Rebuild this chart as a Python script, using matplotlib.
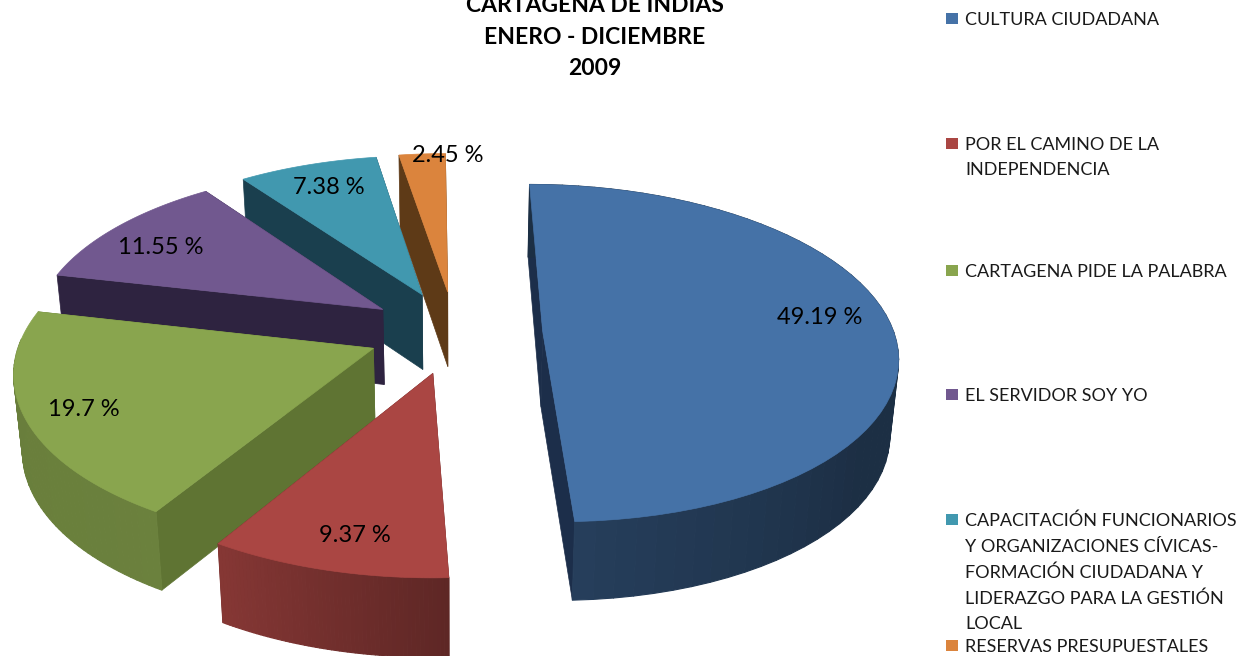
import numpy as np
import matplotlib
matplotlib.use("Agg")
import matplotlib.pyplot as plt
from matplotlib.patches import Polygon, Rectangle
from matplotlib.collections import PolyCollection
from matplotlib.colors import to_rgb

categories = ["CULTURA CIUDADANA", "POR EL CAMINO DE LA\nINDEPENDENCIA", "CARTAGENA PIDE LA PALABRA",
              "EL SERVIDOR SOY YO",
              "CAPACITACIÓN FUNCIONARIOS\nY ORGANIZACIONES CÍVICAS-\nFORMACIÓN CIUDADANA Y\nLIDERAZGO PARA LA GESTIÓN\nLOCAL",
              "RESERVAS PRESUPUESTALES"]
values = [49.19, 9.37, 19.7, 11.55, 7.38, 2.45]
title_lines = ["CARTAGENA DE INDIAS", "ENERO - DICIEMBRE", "2009"]

colors = ["#4572A7", "#AA4643", "#89A54E", "#71588F", "#4198AF", "#DB843D"]
face_dark = ["#1C2E4A", "#5E2624", "#5F7433", "#2E2340", "#1A3F4E", "#5E3A17"]
label_pos = [(820, 318), (355, 536), (84, 410), (161, 248), (329, 188), (448, 155)]
legend_y = [18, 143, 270, 394, 519, 645]

# fake 3d projection of the pie plane, fitted by eye
CX, CY, A, B, P, EXPL, H = 455, 332, 351, 166, 0.13, 0.25, 75.5
SHEAR = -3.0


def project(u, v, down=False):
    s = 1 + P * v
    x = A * u / s + SHEAR * v
    y = -B * v / s
    if down:
        x = x * 0.98
        y = y + H / (1 + 0.04 * v)
    return CX + x, CY + y


def shade(col, k):
    return tuple(c * k for c in to_rgb(col))


def rim_shade(th):
    # dark on the right, lighter round the front towards the left
    return np.interp(np.degrees(th), [90, 125, 177, 210, 285], [0.41, 0.41, 0.55, 0.78, 0.76])


plt.rcParams["font.family"] = ["Lato", "DejaVu Sans"]
fig = plt.figure(figsize=(12.49, 6.56), dpi=100)
ax = fig.add_axes([0, 0, 1, 1])
ax.set_xlim(0, 1249)
ax.set_ylim(656, 0)
ax.axis("off")

total = sum(values)
edges = np.cumsum([0] + values) / total * 2 * np.pi

# back slices first
for i in [5, 4, 3, 2, 1, 0]:
    t0, t1 = edges[i], edges[i + 1]
    mid = (t0 + t1) / 2
    ou, ov = EXPL * np.sin(mid), EXPL * np.cos(mid)
    th = np.linspace(t0, t1, 60)
    au, av = ou + np.sin(th), ov + np.cos(th)

    # cut faces
    for t in (t0, t1):
        pu, pv = ou + np.sin(t), ov + np.cos(t)
        a1 = project(ou, ov)
        a2 = project(pu, pv)
        a3 = project(pu, pv, True)
        a4 = project(ou, ov, True)
        ax.add_patch(Polygon([a1, a2, a3, a4], closed=True, fc=face_dark[i], ec=face_dark[i], lw=0.5))

    # outer rim
    xt, yt = project(au, av)
    xb, yb = project(au, av, True)
    quads = []
    cols = []
    for j in range(len(th) - 1):
        if np.cos(th[j]) > 0.05 and i != 0:
            continue
        quads.append([(xt[j], yt[j]), (xt[j + 1], yt[j + 1]), (xb[j + 1], yb[j + 1]), (xb[j], yb[j])])
        cols.append(shade(colors[i], rim_shade(th[j])))
    if quads:
        ax.add_collection(PolyCollection(quads, facecolors=cols, edgecolors=cols, linewidths=0.8))

    # top
    tx, ty = project(ou, ov)
    pts = [(tx, ty)] + list(zip(xt, yt))
    ax.add_patch(Polygon(pts, closed=True, fc=colors[i], ec=colors[i], lw=0.5))

for v, (x, y) in zip(values, label_pos):
    ax.text(x, y, f"{v} %", ha="center", va="center", fontsize=17, color="black")

for n, line in enumerate(title_lines):
    ax.text(595, 6 + n * 31.3, line, ha="center", va="center", fontsize=16.5, fontweight="bold", color="black")

for i, name in enumerate(categories):
    ax.add_patch(Rectangle((946, legend_y[i] - 5), 12, 11, fc=colors[i], ec="none"))
    ax.text(965, legend_y[i] - 6, name, ha="left", va="top", fontsize=13, color="#1a1a1a", linespacing=1.7)

fig.savefig("out.png", dpi=100)
